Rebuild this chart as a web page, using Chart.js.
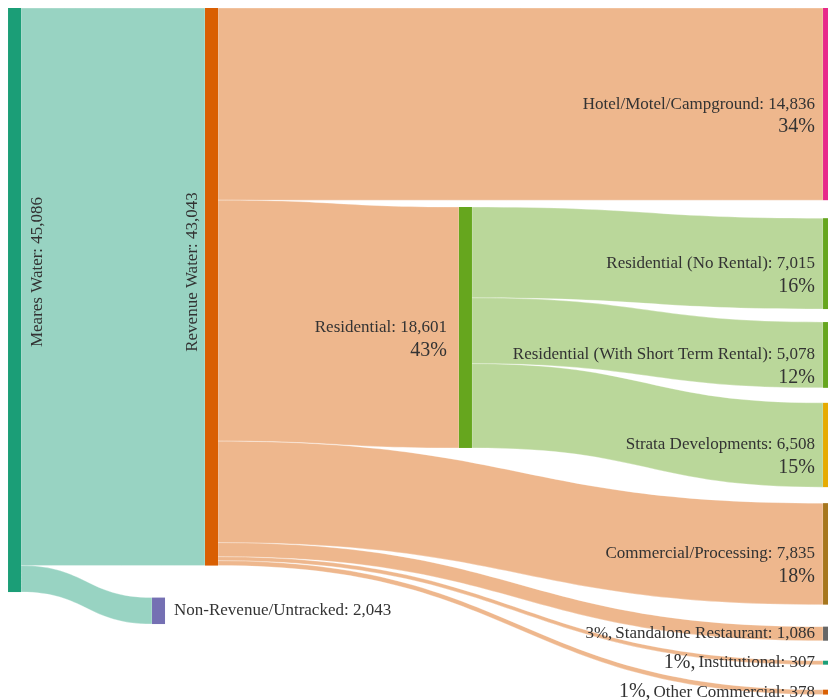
<!DOCTYPE html>
<html>
<head>
<meta charset="utf-8">
<title>Meares Water Flow</title>
<script src="https://cdn.jsdelivr.net/npm/chart.js@4.4.1/dist/chart.umd.min.js"></script>
<style>
  html, body { margin: 0; padding: 0; background: #fff; }
  #chart { display: block; }
</style>
</head>
<body>
<canvas id="chart" width="828" height="700"></canvas>
<script>
// Flow data
const nodeNames = [
    'Meares Water',
    'Revenue Water',
    'Non-Revenue/Untracked',
    'Hotel/Motel/Campground',
    'Residential',
    'Residential (No Rental)',
    'Residential (With Short Term Rental)',
    'Strata Developments',
    'Commercial/Processing',
    'Standalone Restaurant',
    'Institutional',
    'Other Commercial'
];
const linkSources = [0, 0, 1, 1, 1, 1, 1, 1, 4, 4, 4];
const linkTargets = [1, 2, 3, 4, 8, 9, 10, 11, 5, 6, 7];
const linkValues = [43043, 2043, 14836, 18601, 7835, 1086, 307, 378, 7015, 5078, 6508];
const pctBaseNode = 1; // percentages are shares of Revenue Water

// Node colours
const nodeColors = [
    '#1b9e77', '#d95f02', '#7570b3', '#e7298a', '#66a61e', '#66a61e',
    '#66a61e', '#e6ab02', '#a6761d', '#666666', '#1b9e77', '#d95f02'
];

// Layout: node left edge (% of width), stacking groups (px offsets), label modes
const nodeX = [0.97, 24.76, 18.36, 99.4, 55.43, 99.4, 99.4, 99.4, 99.4, 99.4, 99.4, 99.4];
const stackGroups = [
    { nodes: [0], top: 0, gaps: [] },
    { nodes: [1, 2], top: 0, gaps: [32] },
    { nodes: [4], top: 199, gaps: [] },
    { nodes: [3, 5, 6, 7, 8, 9, 10, 11], top: 0, gaps: [18, 13, 15, 16, 22, 20, 25] }
];
const labelModes = ['vertRight', 'vertLeft', 'right', 'left', 'left', 'left', 'left', 'left', 'left', 'inline', 'inline', 'inline'];
const pctFontSizes = [20, 20, 20, 20, 20, 20, 20, 20, 20, 17, 20, 20];

const NODE_W = 13;
const LINK_ALPHA = 0.45;
const VERT_LABEL_Y = 264;
const FONT = '"Liberation Serif", "Times New Roman", serif';

const hexToRgba = (hex, a) => {
    const n = parseInt(hex.slice(1), 16);
    return `rgba(${(n >> 16) & 255}, ${(n >> 8) & 255}, ${n & 255}, ${a})`;
};

const sankeyPlugin = {
    id: 'sankey',
    afterDatasetsDraw(chart) {
        const { ctx, scales: { x, y } } = chart;
        const unitPx = Math.abs(y.getPixelForValue(1) - y.getPixelForValue(0));

        // node values
        const inSum = nodeNames.map(() => 0);
        const outSum = nodeNames.map(() => 0);
        linkValues.forEach((v, i) => {
            outSum[linkSources[i]] += v;
            inSum[linkTargets[i]] += v;
        });
        const nodeValue = nodeNames.map((_, i) => Math.max(inSum[i], outSum[i]));

        // vertical node positions in value units
        const nodeTop = [];
        stackGroups.forEach(g => {
            let v = g.top / unitPx;
            g.nodes.forEach((n, k) => {
                if (k > 0) v += g.gaps[k - 1] / unitPx;
                nodeTop[n] = v;
                v += nodeValue[n];
            });
        });

        // link offsets at both ends
        const order = linkValues.map((_, i) => i);
        const outOff = nodeTop.slice();
        const inOff = nodeTop.slice();
        const start = [], end = [];
        order.slice()
            .sort((a, b) => nodeTop[linkTargets[a]] - nodeTop[linkTargets[b]])
            .forEach(i => { start[i] = outOff[linkSources[i]]; outOff[linkSources[i]] += linkValues[i]; });
        order.slice()
            .sort((a, b) => nodeTop[linkSources[a]] - nodeTop[linkSources[b]])
            .forEach(i => { end[i] = inOff[linkTargets[i]]; inOff[linkTargets[i]] += linkValues[i]; });

        ctx.save();

        // links
        order.forEach(i => {
            const s = linkSources[i], t = linkTargets[i];
            const x0 = x.getPixelForValue(nodeX[s]) + NODE_W;
            const x1 = x.getPixelForValue(nodeX[t]);
            const xm = (x0 + x1) / 2;
            const y0a = y.getPixelForValue(start[i]);
            const y0b = y.getPixelForValue(start[i] + linkValues[i]);
            const y1a = y.getPixelForValue(end[i]);
            const y1b = y.getPixelForValue(end[i] + linkValues[i]);
            ctx.beginPath();
            ctx.moveTo(x0, y0a);
            ctx.bezierCurveTo(xm, y0a, xm, y1a, x1, y1a);
            ctx.lineTo(x1, y1b);
            ctx.bezierCurveTo(xm, y1b, xm, y0b, x0, y0b);
            ctx.closePath();
            ctx.fillStyle = hexToRgba(nodeColors[s], LINK_ALPHA);
            ctx.fill();
            ctx.strokeStyle = 'rgba(255, 255, 255, 0.6)';
            ctx.lineWidth = 0.5;
            ctx.stroke();
        });

        // nodes
        nodeNames.forEach((_, n) => {
            const top = y.getPixelForValue(nodeTop[n]);
            const bottom = y.getPixelForValue(nodeTop[n] + nodeValue[n]);
            ctx.fillStyle = nodeColors[n];
            ctx.fillRect(x.getPixelForValue(nodeX[n]), top, NODE_W, bottom - top);
        });

        // labels
        ctx.fillStyle = '#333';
        ctx.textBaseline = 'middle';
        nodeNames.forEach((name, n) => {
            const left = x.getPixelForValue(nodeX[n]);
            const top = y.getPixelForValue(nodeTop[n]);
            const mid = (top + y.getPixelForValue(nodeTop[n] + nodeValue[n])) / 2;
            const text = `${name}: ${nodeValue[n].toLocaleString('en-US')}`;
            const pct = Math.round(nodeValue[n] / nodeValue[pctBaseNode] * 100) + '%';
            const mode = labelModes[n];
            ctx.font = `17px ${FONT}`;

            if (mode === 'vertRight' || mode === 'vertLeft') {
                const cx = mode === 'vertRight' ? left + NODE_W + 16 : left - 12;
                ctx.save();
                ctx.translate(cx, top + VERT_LABEL_Y);
                ctx.rotate(-Math.PI / 2);
                ctx.textAlign = 'center';
                ctx.fillText(text, 0, 0);
                ctx.restore();
            } else if (mode === 'right') {
                ctx.textAlign = 'left';
                ctx.fillText(text, left + NODE_W + 9, mid);
            } else if (mode === 'left') {
                const xr = n === 4 ? left - 12 : left - 8;
                ctx.textAlign = 'right';
                ctx.fillText(text, xr, mid);
                ctx.font = `${pctFontSizes[n]}px ${FONT}`;
                ctx.fillText(pct, xr, mid + 23);
            } else {
                const xr = left - 8;
                ctx.textAlign = 'right';
                ctx.fillText(text, xr, mid);
                const w = ctx.measureText(text).width;
                ctx.font = `${pctFontSizes[n]}px ${FONT}`;
                ctx.fillText(pct + ',', xr - w - 3, mid);
            }
        });

        ctx.restore();
    }
};

new Chart(document.getElementById('chart'), {
    type: 'scatter',
    data: { datasets: [] },
    options: {
        responsive: false,
        animation: false,
        layout: { padding: { top: 8, left: 0, right: 0, bottom: 0 } },
        plugins: {
            legend: { display: false },
            tooltip: { enabled: false }
        },
        scales: {
            x: { type: 'linear', min: 0, max: 100, display: false },
            y: { type: 'linear', min: 0, max: 53420, reverse: true, display: false }
        }
    },
    plugins: [sankeyPlugin]
});
</script>
</body>
</html>
